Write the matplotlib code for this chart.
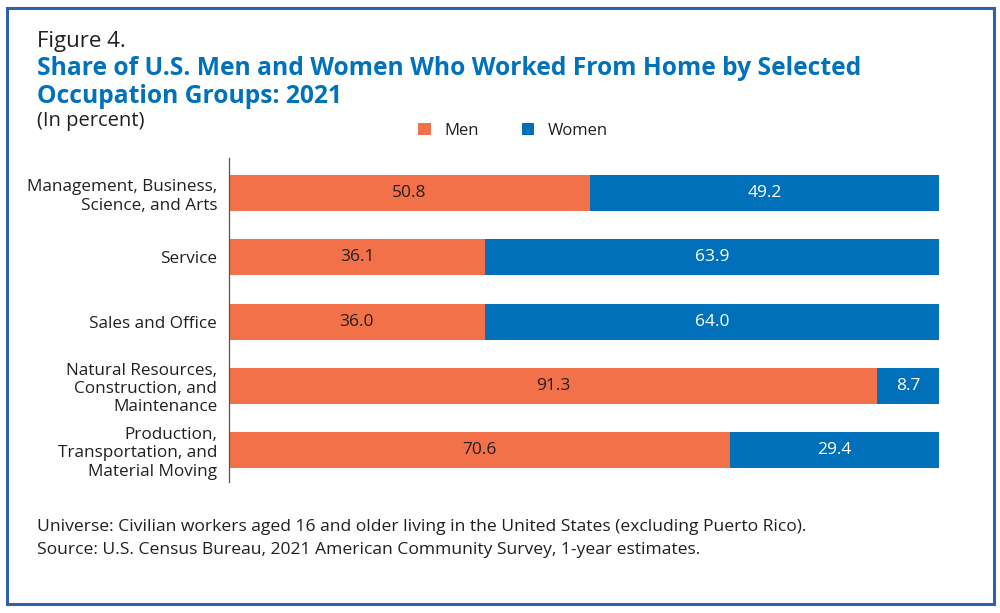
import matplotlib
matplotlib.use("Agg")
import matplotlib.pyplot as plt
from matplotlib.patches import Rectangle

categories = [
    "Management, Business,\nScience, and Arts",
    "Service",
    "Sales and Office",
    "Natural Resources,\nConstruction, and\nMaintenance",
    "Production,\nTransportation, and\nMaterial Moving",
]
men = [50.8, 36.1, 36.0, 91.3, 70.6]
women = [49.2, 63.9, 64.0, 8.7, 29.4]

MEN_C = "#F37148"
WOMEN_C = "#0070BA"
TITLE_C = "#0072BC"
FONT = ["Open Sans", "DejaVu Sans"]

plt.rcParams["font.family"] = FONT

fig = plt.figure(figsize=(10, 6.13), dpi=100)
fig.patches.append(Rectangle((0.0065, 0.0145), 0.987, 0.972, transform=fig.transFigure,
                             fill=False, edgecolor="#2E62A8", linewidth=2.2))

ax = fig.add_axes([0.229, 0.2137, 0.71, 0.5286])
y = list(range(len(categories)))
ax.barh(y, men, height=0.56, color=MEN_C, label="Men")
ax.barh(y, women, left=men, height=0.56, color=WOMEN_C, label="Women")

for i in y:
    ax.text(men[i] / 2, i, f"{men[i]:.1f}", ha="center", va="center",
            fontsize=12.5, color="#231F20")
    ax.text(men[i] + women[i] / 2, i, f"{women[i]:.1f}", ha="center", va="center",
            fontsize=12.5, color="white")

ax.set_xlim(0, 100)
ax.set_ylim(4.5, -0.55)
ax.set_yticks(y)
ax.set_yticklabels(categories, fontsize=12.3, color="#231F20", linespacing=1.2)
ax.tick_params(axis="y", length=0, pad=8.5)
ax.set_xticks([])
for s in ["top", "right", "bottom"]:
    ax.spines[s].set_visible(False)
ax.spines["left"].set_color("#555555")
ax.spines["left"].set_linewidth(0.9)

fig.text(0.037, 0.932, "Figure 4.", fontsize=16, color="#231F20", va="center")
fig.text(0.037, 0.889, "Share of U.S. Men and Women Who Worked From Home by Selected",
         fontsize=17.7, fontweight="bold", color=TITLE_C, va="center")
fig.text(0.037, 0.843, "Occupation Groups: 2021",
         fontsize=17.7, fontweight="bold", color=TITLE_C, va="center")
fig.text(0.037, 0.802, "(In percent)", fontsize=14.5, color="#231F20", va="center")

leg = fig.legend(loc="center", bbox_to_anchor=(0.513, 0.786), ncol=2, frameon=False,
                 fontsize=12, handlelength=0.75, handleheight=0.75, columnspacing=2.6,
                 handletextpad=0.8)
for t in leg.get_texts():
    t.set_color("#231F20")

fig.text(0.037, 0.141, "Universe: Civilian workers aged 16 and older living in the United States (excluding Puerto Rico).",
         fontsize=12.6, color="#231F20", va="center")
fig.text(0.037, 0.102, "Source: U.S. Census Bureau, 2021 American Community Survey, 1-year estimates.",
         fontsize=12.6, color="#231F20", va="center")

fig.savefig("out.png", dpi=100)
